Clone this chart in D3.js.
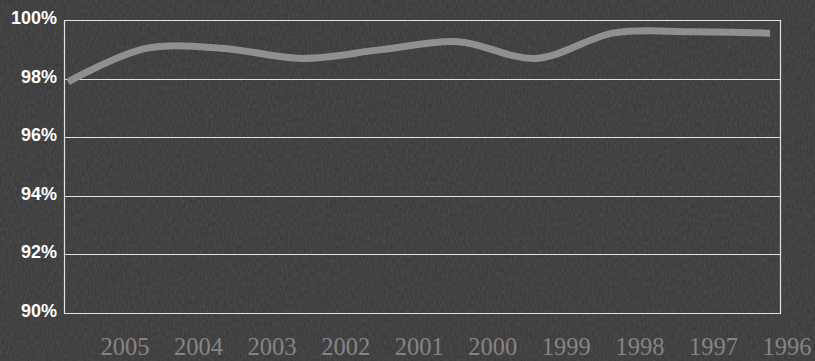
<!DOCTYPE html>
<html><head><meta charset="utf-8">
<script src="https://cdn.jsdelivr.net/npm/d3@7"></script>
<style>html,body{margin:0;padding:0;background:#3d3d3d;overflow:hidden}</style>
</head><body>
<script>
const years = ["2005","2004","2003","2002","2001","2000","1999","1998","1997","1996"];
const values = [0.9789, 0.9903, 0.9903, 0.9869, 0.9898, 0.9926, 0.9869, 0.9956, 0.9960, 0.9955];
const yTicks = [0.90, 0.92, 0.94, 0.96, 0.98, 1.00];

const W = 815, H = 361;
const svg = d3.select("body").append("svg").attr("width", W).attr("height", H);

const defs = svg.append("defs");
const f = defs.append("filter").attr("id","noise").attr("x",0).attr("y",0).attr("width","100%").attr("height","100%");
f.append("feTurbulence").attr("type","fractalNoise").attr("baseFrequency","0.7 0.22").attr("numOctaves",3).attr("seed",4).attr("result","t");
f.append("feColorMatrix").attr("type","matrix").attr("values","0 0 0 0 0.55  0 0 0 0 0.55  0 0 0 0 0.55  0 0 0 1.0 -0.25");
svg.append("rect").attr("width",W).attr("height",H).attr("fill","#3c3c3c");
svg.append("rect").attr("width",W).attr("height",H).attr("filter","url(#noise)").attr("opacity",0.18);

const pLeft = 64, pRight = 780, pTop = 20, pBottom = 313;
const y = d3.scaleLinear().domain([0.90, 1.00]).range([pBottom, pTop]);
const x = d3.scalePoint().domain(years).range([68, 770]);
const xl = d3.scalePoint().domain(years).range([124.5, 786.5]);

// gridlines
svg.append("g").selectAll("line").data(yTicks).join("line")
  .attr("x1", pLeft).attr("x2", pRight)
  .attr("y1", d => Math.round(y(d)) + 0.5).attr("y2", d => Math.round(y(d)) + 0.5)
  .attr("stroke", "#e2e2e2").attr("stroke-width", 1.2);
// borders
svg.append("g").selectAll("line").data([pLeft, pRight]).join("line")
  .attr("x1", d => d + 0.5).attr("x2", d => d + 0.5)
  .attr("y1", pTop).attr("y2", pBottom + 1)
  .attr("stroke", "#e2e2e2").attr("stroke-width", 1.2);

// y labels
const yAxis = d3.axisLeft(y).tickValues(yTicks).tickFormat(d3.format(".0%")).tickSize(0).tickPadding(0);
const ga = svg.append("g").attr("transform", "translate(57,0)").call(yAxis);
ga.select(".domain").remove();
ga.selectAll("text").attr("fill", "#ffffff").attr("font-family", "'Liberation Sans', Arial, sans-serif")
  .attr("font-weight", "bold").attr("font-size", "18px").attr("dy", null).attr("y", 3.5);

// x labels
const xAxis = d3.axisBottom(xl).tickSize(0).tickPadding(0);
const gx = svg.append("g").attr("transform", "translate(0,355)").call(xAxis);
gx.select(".domain").remove();
gx.selectAll("text").attr("fill", "#848484").attr("font-family", "'Liberation Serif', 'Times New Roman', serif")
  .attr("font-size", "24.5px").attr("dy", null).attr("y", 0);

// line
const line = d3.line().x((d, i) => x(years[i])).y(d => y(d)).curve(d3.curveCatmullRom.alpha(0.5));
svg.append("path").datum(values).attr("d", line)
  .attr("fill", "none").attr("stroke", "#8f8f8f").attr("stroke-width", 7).attr("stroke-linecap", "butt");
</script>
</body></html>
